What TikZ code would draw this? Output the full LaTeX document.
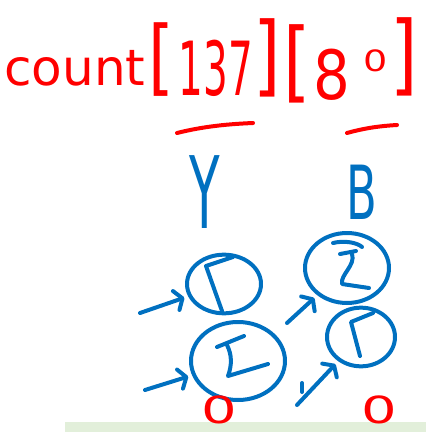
\documentclass[tikz,border=0pt]{standalone}
\usepackage{fontspec}
\setmainfont{DejaVu Sans}
\usetikzlibrary{arrows.meta,shapes.geometric}
\definecolor{inkblue}{RGB}{0,112,192}
\definecolor{inkred}{RGB}{255,0,0}
\definecolor{floorgreen}{RGB}{226,239,218}
\begin{document}
\begin{tikzpicture}[x=0.75pt,y=-0.75pt,
  pen/.style={line width=3pt, line cap=round, line join=round},
  bluepen/.style={pen, draw=inkblue},
  redpen/.style={pen, draw=inkred},
  redtext/.style={text=inkred, inner sep=0pt},
  bluetext/.style={text=inkblue, inner sep=0pt},
  cell/.style={bluepen, ellipse, inner sep=0pt},
  inarrow/.style={bluepen, shorten >=3pt, -{Straight Barb[length=5pt,width=15pt,round]}}]
\useasboundingbox (0,0) rectangle (426,432);
\fill[floorgreen] (65,422) rectangle (426,432);
% title
\node[redtext, anchor=base west, font=\fontsize{37.5}{40}\selectfont] (cnt) at (4,85) {count};
\node[redtext, font=\fontsize{62}{62}\selectfont, xscale=0.8] (lb1) at (161,60) {[};
\node[redtext, font=\fontsize{56}{56}\selectfont, xscale=0.52] (idx1) at (216,68) {137};
\node[redtext, font=\fontsize{66}{66}\selectfont, xscale=0.8] (rb1) at (267,58) {]};
\node[redtext, font=\fontsize{66}{66}\selectfont, xscale=0.8] (lb2) at (297,64) {[};
\node[redtext, font=\fontsize{51}{51}\selectfont, xscale=0.85] (d8) at (332,75) {8};
\node[redtext, font=\fontsize{22}{22}\selectfont, xscale=1.3] (d0) at (376,61) {0};
\node[redtext, font=\fontsize{66}{66}\selectfont, xscale=0.8] (rb2) at (404,57) {]};
\draw[redpen] (177,133) .. controls (205,126) and (230,124) .. (253,123);
\draw[redpen] (347,133) .. controls (365,128) and (380,126) .. (397,125);
% column labels
\node[bluetext, font=\fontsize{75}{75}\selectfont, xscale=0.5] (ly) at (205,192) {Y};
\node[bluetext, font=\fontsize{56}{56}\selectfont, xscale=0.6] (lbb) at (362,192) {B};
% cells
\node[cell, minimum width=55.5pt, minimum height=44pt] (c1) at (224,284) {};
\node[cell, minimum width=70.5pt, minimum height=58.5pt] (c2) at (238,361) {};
\node[cell, minimum width=63pt, minimum height=52.5pt] (c3) at (347,268) {};
\node[cell, minimum width=51pt, minimum height=44pt] (c4) at (361,337) {};
% marks inside cells
\draw[bluepen] (233,257) -- (206,266) -- (222,311);
\draw[bluepen] (217,347) -- (244,336);
\draw[bluepen] (227,345) .. controls (232,355) and (232,365) .. (228,376) -- (268,364);
\draw[bluepen] (333,243) .. controls (345,240) and (358,243) .. (362,247);
\draw[bluepen] (340,254) -- (356,251);
\draw[bluepen] (352,254) .. controls (356,265) and (340,275) .. (342,284) -- (369,288);
\draw[bluepen] (373,313) -- (351,322) -- (360,356);
% arrows
\coordinate (a1) at (140,313);
\coordinate (a2) at (145,390);
\coordinate (a3) at (287,323);
\coordinate (a4) at (297,405);
\draw[inarrow] (a1) -- (c1);
\draw[inarrow] (a2) -- (c2);
\draw[inarrow] (a3) -- (c3);
\draw[inarrow] (a4) -- (c4);
\draw[bluepen] (302,383) -- (302,392);
% base cases
\node[redtext, font=\fontsize{28}{28}\selectfont, xscale=1.5] (z1) at (219,410) {0};
\node[redtext, font=\fontsize{28}{28}\selectfont, xscale=1.5] (z2) at (379,410) {0};
\end{tikzpicture}
\end{document}
